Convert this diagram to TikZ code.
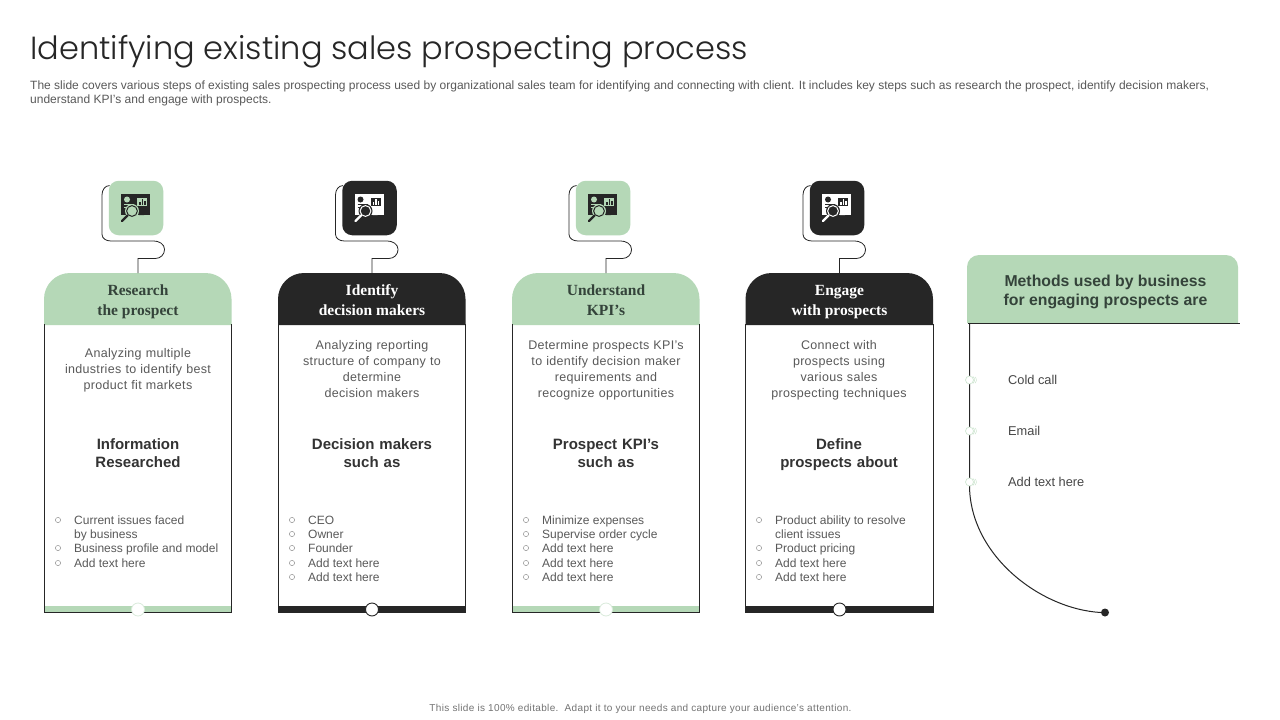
\documentclass[tikz,border=0pt]{standalone}
\usepackage{fontspec}
\setmainfont{Liberation Sans}
\newfontfamily\headserif{Liberation Serif}
\newfontfamily\titlefont[UprightFont={* Light}]{Poppins}
\usetikzlibrary{calc}
\definecolor{leaf}{HTML}{B5D8B7}
\definecolor{ink}{HTML}{262626}
\definecolor{bodygrey}{HTML}{595959}
\definecolor{subhead}{HTML}{333333}
\definecolor{leafink}{HTML}{34433A}
\newcommand{\fs}[1]{\fontsize{#1}{#1}\selectfont}
\newcommand{\vp}{\vphantom{Ag}}
\tikzset{
  iconbox/.style={minimum width=54.5pt,minimum height=54.5pt,inner sep=0pt,rounded corners=10pt,draw=none},
  wire/.style={draw=ink,line width=0.8pt},
  headtext/.style={inner sep=0pt,align=center,font=\headserif\bfseries\fs{15.5},execute at begin node={\setlength{\baselineskip}{20pt}}},
  bodytext/.style={inner sep=0pt,align=center,text=bodygrey,font=\fs{12.5}\addfontfeature{LetterSpace=2.5},text width=180pt,execute at begin node={\setlength{\baselineskip}{16pt}}},
  subtext/.style={inner sep=0pt,align=center,text=subhead,font=\bfseries\fs{15},text width=180pt,execute at begin node={\setlength{\baselineskip}{18pt}}},
  itemtext/.style={inner sep=0pt,anchor=west,text=bodygrey,font=\fs{12},text height=9pt,text depth=3pt},
  bulletdot/.style={circle,draw=bodygrey!80,line width=0.4pt,minimum size=5.2pt,inner sep=0pt},
  knob/.style={circle,draw=leaf!50,fill=white,line width=0.8pt,minimum size=13pt,inner sep=0pt},
  blackknob/.style={circle,draw=ink,fill=white,line width=0.9pt,minimum size=13pt,inner sep=0pt},
  sideknob/.style={circle,draw=leaf!70,fill=white,line width=0.6pt,minimum size=8pt,inner sep=0pt},
}
% #1 id, #2 left x, #3 icon centre x, #4 fill, #5 head text colour, #6 head text, #7 board colour, #8 detail colour, #9 knob style
\newcommand{\stage}[9]{%
  \fill[#4] (#2,325) [rounded corners=26pt] -- (#2,273) -- (#2+187.5,273) [sharp corners] -- (#2+187.5,325) -- cycle;
  \fill[#4] (#2,606) rectangle (#2+187.5,612);
  \draw[line width=0.9pt,draw=ink] (#2,324) -- (#2,612.5) -- (#2+187.5,612.5) -- (#2+187.5,324);
  \node[headtext,text=#5] (h#1) at (#2+94,302) {#6};
  \coordinate (top#1) at (#2+94,273);
  \node[iconbox,fill=#4] (i#1) at (#3,208) {};
  \draw[wire] ($(i#1.north west)+(1,5)$) to[out=180,in=90] ($(i#1.north west)+(-6.5,14)$) -- ($(i#1.south west)+(-6.5,-1)$) to[out=270,in=180] ($(i#1.south west)+(2,5.5)$) -- ($(i#1.south west)+(45,5.5)$) to[out=0,in=90] ($(i#1.south west)+(56,14)$) to[out=270,in=0] ($(i#1.south west)+(47,23)$) -| (top#1);
  % picture icon
  \fill[#7] ($(i#1.center)+(-15,-14)$) rectangle ($(i#1.center)+(14,7)$);
  \fill[#8] ($(i#1.center)+(-9,-8.5)$) circle[radius=3];
  \fill[#8] ($(i#1.center)+(1,-10)$) rectangle ($(i#1.center)+(11,-2)$);
  \fill[#7] ($(i#1.center)+(3,-6)$) rectangle ($(i#1.center)+(4.5,-3)$);
  \fill[#7] ($(i#1.center)+(5.5,-9)$) rectangle ($(i#1.center)+(7,-3)$);
  \fill[#7] ($(i#1.center)+(8,-7)$) rectangle ($(i#1.center)+(9.5,-3)$);
  \draw[#8,line width=0.7pt] ($(i#1.center)+(-12,-3.5)$) -- ($(i#1.center)+(-2,-3.5)$);
  \draw[#8,line width=0.7pt] ($(i#1.center)+(-12,-1)$) -- ($(i#1.center)+(-8,-1)$);
  \fill[#4] ($(i#1.center)+(-4,3)$) circle[radius=7];
  \draw[#7,line width=1pt] ($(i#1.center)+(-4,3)$) circle[radius=5.4];
  \fill[#8] ($(i#1.center)+(-4,2)$) circle[radius=2];
  \fill[#7] ($(i#1.center)+(3,7)$) -- ($(i#1.center)+(5,3)$) -- ($(i#1.center)+(8,7)$) -- cycle;
  \draw[#7,line width=2.2pt,line cap=round] ($(i#1.center)+(-8.5,7.5)$) -- ($(i#1.center)+(-14,13)$);
  \node[#9] (k#1) at (#2+94,609.5) {};
}
% #1 name, #2 x, #3 y, #4 text
\newcommand{\entry}[4]{%
  \node[bulletdot] (b#1) at (#2,#3) {};
  \node[itemtext] (t#1) at (#2+16,#3+1.6) {#4};
}
\begin{document}
\begin{tikzpicture}[x=1pt,y=-1pt]
\useasboundingbox (0,0) rectangle (1280,720);
\fill[white] (0,0) rectangle (1280,720);
\node[anchor=base west,inner sep=0pt,text=ink,font=\titlefont\fs{32}] (title) at (30,59) {Identifying existing sales prospecting process};
\node[anchor=north west,inner sep=0pt,text=bodygrey,font=\fs{12},align=left,execute at begin node={\setlength{\baselineskip}{14pt}}] (desc) at (30,80.5)
 {The slide covers various steps of existing sales prospecting process used by organizational sales team for identifying and connecting with client. It includes key steps such as research the prospect, identify decision makers,\\
 understand KPI’s and engage with prospects.};

\stage{A}{44}{136}{leaf}{leafink}{\vp Research\\\vp the prospect}{ink}{leaf}{knob}
\stage{B}{278}{369.5}{ink}{white}{\vp Identify\\\vp decision makers}{white}{ink}{blackknob}
\stage{C}{512}{603}{leaf}{leafink}{\vp Understand\\\vp KPI’s}{ink}{leaf}{knob}
\stage{D}{745.5}{837}{ink}{white}{\vp Engage\\\vp with prospects}{white}{ink}{blackknob}

\node[bodytext] (dA) at (138,370.2) {\vp Analyzing multiple\\industries to identify best\\\vp product fit markets};
\node[bodytext] (dB) at (372,370.2) {\vp Analyzing reporting\\structure of company to\\determine\\\vp decision makers};
\node[bodytext] (dC) at (606,370.2) {\vp Determine prospects KPI’s\\to identify decision maker\\requirements and\\\vp recognize opportunities};
\node[bodytext] (dD) at (839,370.2) {\vp Connect with\\prospects using\\various sales\\\vp prospecting techniques};

\node[subtext] (sA) at (138,455) {\vp Information\\\vp Researched};
\node[subtext] (sB) at (372,455) {\vp Decision makers\\\vp such as};
\node[subtext] (sC) at (606,455) {\vp Prospect KPI's\\\vp such as};
\node[subtext] (sD) at (839,455) {\vp Define\\\vp prospects about};

\entry{A1}{58}{520}{Current issues faced}
\node[itemtext] (tA1b) at (74,535.6) {by business};
\entry{A2}{58}{548}{Business profile and model}
\entry{A3}{58}{563}{Add text here}

\entry{B1}{292}{520}{CEO}
\entry{B2}{292}{534}{Owner}
\entry{B3}{292}{548}{Founder}
\entry{B4}{292}{563}{Add text here}
\entry{B5}{292}{577}{Add text here}

\entry{C1}{526}{520}{Minimize expenses}
\entry{C2}{526}{534}{Supervise order cycle}
\entry{C3}{526}{548}{Add text here}
\entry{C4}{526}{563}{Add text here}
\entry{C5}{526}{577}{Add text here}

\entry{D1}{759}{520}{Product ability to resolve}
\node[itemtext] (tD1b) at (775,535.6) {client issues};
\entry{D2}{759}{548}{Product pricing}
\entry{D3}{759}{563}{Add text here}
\entry{D4}{759}{577}{Add text here}

% right panel
\fill[leaf] (967,323) [rounded corners=12pt] -- (967,255) -- (1238,255) [sharp corners] -- (1238,323) -- cycle;
\node[inner sep=0pt,align=center,text=leafink,font=\bfseries\fs{15.8},execute at begin node={\setlength{\baselineskip}{19.5pt}}] (mh) at (1105.5,292) {\vp Methods used by business\\\vp for engaging prospects are};
\coordinate (ruleL) at (968,323.5);
\coordinate (ruleR) at (1240,323.5);
\coordinate (vTop) at (969.5,323.5);
\coordinate (arcS) at (969.5,485);
\node[circle,fill=ink,minimum size=8pt,inner sep=0pt] (endDot) at (1105,612.5) {};
\draw[wire] (ruleL) -- (ruleR);
\draw[wire,line width=1pt] (vTop) -- (arcS) .. controls (969.5,555) and (1040,609) .. (endDot.west);
\foreach \n/\y/\t in {1/380/Cold call,2/431/Email,3/482/Add text here}{
  \draw[leaf!70,line width=0.5pt] (975,\y-3) arc[start angle=-50,end angle=50,radius=4];
  \draw[leaf!70,line width=0.5pt] (973,\y-3.5) arc[start angle=-50,end angle=50,radius=4.5];
  \node[sideknob] (m\n) at (969.5,\y) {};
  \node[itemtext,text=ink!85,font=\fs{12.8}] (mt\n) at (1008,\y+1.4) {\t};
}
\node[inner sep=0pt,text=black!55,font=\fs{10}\addfontfeature{LetterSpace=3.4},text height=8pt,text depth=2pt] (foot) at (640.5,708) {This slide is 100\% editable.\ \ Adapt it to your needs and capture your audience’s attention.};
\end{tikzpicture}
\end{document}
